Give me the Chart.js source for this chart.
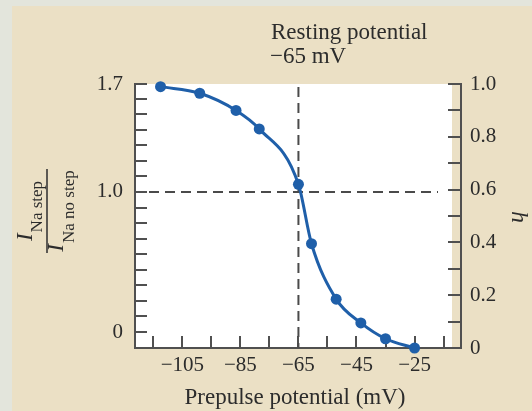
<!DOCTYPE html>
<html>
<head>
<meta charset="utf-8">
<script src="https://cdn.jsdelivr.net/npm/chart.js@4"></script>
<style>
  html, body { margin: 0; padding: 0; background: #e3e5dc; }
  #wrap { width: 532px; height: 411px; }
</style>
</head>
<body>
<div id="wrap"><canvas id="myChart" width="532" height="411"></canvas></div>
<script>
(() => {
  // *****************Data*****************
  const POTENTIAL_MV = [-112.5, -99, -86.5, -78.5, -65, -60.5, -52, -43.5, -35, -25];
  const H_VALUES = [0.99, 0.965, 0.9, 0.83, 0.62, 0.395, 0.185, 0.095, 0.035, 0.0];

  const X_TICKS = [-115, -105, -95, -85, -75, -65, -55, -45, -35, -25, -15];
  const X_LABELS = ["", "−105", "", "−85", "", "−65", "", "−45", "", "−25", ""];

  const H_TICKS = [0, 0.1, 0.2, 0.3, 0.4, 0.5, 0.6, 0.7, 0.8, 0.9, 1.0];
  const H_LABELS = ["0", "", "0.2", "", "0.4", "", "0.6", "", "0.8", "", "1.0"];

  // left axis: I(step)/I(no step), minor ticks every 1/9
  const RATIO_TICKS = [0, 0.111, 0.222, 0.333, 0.444, 0.556, 0.667, 0.778, 0.889, 1.0,
    1.111, 1.222, 1.333, 1.444, 1.556, 1.667, 1.771];
  const RATIO_LABELS = ["0", "", "", "", "", "", "", "", "", "1.0",
    "", "", "", "", "", "", "1.7"];

  const RESTING_MV = -65;
  const RATIO_REF = 1.0;

  const serif = '"Liberation Serif", "Times New Roman", serif';
  const inkColor = "#2c2c2c";
  const axisColor = "#505050";
  const blue = "#1f5fa9";

  // *****************Plugin: background, inward ticks, text*****************
  const figurePlugin = {
    id: "figure",
    beforeDraw(chart) {
      const { ctx, chartArea: a } = chart;
      ctx.save();
      ctx.fillStyle = "#ebe0c5";
      ctx.fillRect(12, 6, 520, 405);
      ctx.fillStyle = "#ffffff";
      ctx.fillRect(a.left, a.top, a.right - 9 - a.left, a.bottom - a.top);
      ctx.restore();
    },
    beforeDatasetsDraw(chart) {
      const { ctx, chartArea: a, scales } = chart;
      ctx.save();
      ctx.strokeStyle = axisColor;
      ctx.lineWidth = 2;
      ctx.beginPath();
      scales.yL.ticks.forEach((t) => {
        const y = Math.round(scales.yL.getPixelForValue(t.value));
        ctx.moveTo(a.left, y);
        ctx.lineTo(a.left + 12, y);
      });
      scales.y.ticks.forEach((t) => {
        const y = Math.round(scales.y.getPixelForValue(t.value));
        ctx.moveTo(a.right - 13, y);
        ctx.lineTo(a.right, y);
      });
      scales.x.ticks.forEach((t) => {
        const x = Math.round(scales.x.getPixelForValue(t.value));
        ctx.moveTo(x, a.bottom);
        ctx.lineTo(x, a.bottom - 12);
      });
      ctx.stroke();

      // dashed guide lines
      ctx.setLineDash([10, 6]);
      ctx.strokeStyle = "#4a4a4a";
      ctx.beginPath();
      const yRef = scales.yL.getPixelForValue(RATIO_REF);
      ctx.moveTo(a.left + 14, yRef);
      ctx.lineTo(a.right - 23, yRef);
      const xRest = scales.x.getPixelForValue(RESTING_MV);
      ctx.moveTo(xRest, a.top + 3);
      ctx.lineTo(xRest, a.bottom);
      ctx.stroke();
      ctx.restore();
    },
    afterDraw(chart) {
      const { ctx } = chart;
      ctx.save();
      ctx.fillStyle = inkColor;
      ctx.textBaseline = "alphabetic";

      // resting potential note
      ctx.font = `23px ${serif}`;
      ctx.textAlign = "left";
      ctx.fillText("Resting potential", 271, 39);
      ctx.fillText("−65 mV", 270, 63);

      // x title
      ctx.textAlign = "center";
      ctx.fillText("Prepulse potential (mV)", 295, 404);

      // right title h
      ctx.save();
      ctx.translate(518, 217);
      ctx.rotate(Math.PI / 2);
      ctx.font = `italic 24px ${serif}`;
      ctx.textBaseline = "middle";
      ctx.fillText("h", 0, 0);
      ctx.restore();

      // left title: fraction
      ctx.save();
      ctx.translate(47, 211);
      ctx.rotate(-Math.PI / 2);
      ctx.textAlign = "left";
      const part = (main, sub, baseY, subY) => {
        ctx.font = `italic 23px ${serif}`;
        const w1 = ctx.measureText(main).width;
        ctx.font = `17px ${serif}`;
        const w2 = ctx.measureText(sub).width;
        const x0 = -(w1 + w2 + 1) / 2;
        ctx.font = `italic 23px ${serif}`;
        ctx.fillText(main, x0, baseY);
        ctx.font = `17px ${serif}`;
        ctx.fillText(sub, x0 + w1 + 1, subY);
      };
      part("I", "Na step", -15, -5);
      part("I", "Na no step", 16, 27);
      ctx.strokeStyle = inkColor;
      ctx.lineWidth = 1.5;
      ctx.beginPath();
      ctx.moveTo(-42, 0);
      ctx.lineTo(42, 0);
      ctx.stroke();
      ctx.restore();

      ctx.restore();
    },
  };

  const tickFont = { family: serif, size: 21 };

  const config = {
    type: "scatter",
    data: {
      datasets: [
        {
          data: POTENTIAL_MV.map((x, i) => ({ x: x, y: H_VALUES[i] })),
          showLine: true,
          cubicInterpolationMode: "monotone",
          borderColor: blue,
          borderWidth: 3,
          backgroundColor: blue,
          pointBackgroundColor: blue,
          pointBorderColor: blue,
          pointRadius: 5.5,
          pointBorderWidth: 0,
          clip: false,
          yAxisID: "y",
        },
      ],
    },
    plugins: [figurePlugin],
    options: {
      responsive: false,
      devicePixelRatio: 1,
      animation: false,
      layout: { padding: { top: 84, left: 0, right: 0, bottom: 0 } },
      plugins: {
        legend: { display: false },
        tooltip: { enabled: false },
      },
      scales: {
        x: {
          type: "linear",
          position: "bottom",
          min: -121.3,
          max: -9,
          afterFit: (s) => { s.height = 63; },
          afterBuildTicks: (s) => { s.ticks = X_TICKS.map((v) => ({ value: v })); },
          grid: { display: false, drawTicks: false },
          border: { display: true, color: axisColor, width: 2 },
          ticks: {
            autoSkip: false,
            maxRotation: 0,
            padding: 5,
            color: inkColor,
            font: tickFont,
            callback: (v, i) => X_LABELS[i],
          },
        },
        y: {
          type: "linear",
          position: "right",
          min: 0,
          max: 1.0,
          afterFit: (s) => { s.width = 71; },
          afterBuildTicks: (s) => { s.ticks = H_TICKS.map((v) => ({ value: v })); },
          grid: { display: false, drawTicks: false },
          border: { display: true, color: axisColor, width: 2 },
          ticks: {
            autoSkip: false,
            padding: 9,
            color: inkColor,
            font: tickFont,
            callback: (v, i) => H_LABELS[i],
          },
        },
        yL: {
          type: "linear",
          position: "left",
          min: -0.114,
          max: 1.771,
          afterFit: (s) => { s.width = 135; },
          afterBuildTicks: (s) => { s.ticks = RATIO_TICKS.map((v) => ({ value: v })); },
          grid: { display: false, drawTicks: false },
          border: { display: true, color: axisColor, width: 2 },
          ticks: {
            autoSkip: false,
            padding: 12,
            color: inkColor,
            font: tickFont,
            callback: (v, i) => RATIO_LABELS[i],
          },
        },
      },
    },
  };

  const myChart = new Chart(document.getElementById("myChart"), config);
})();
</script>
</body>
</html>
